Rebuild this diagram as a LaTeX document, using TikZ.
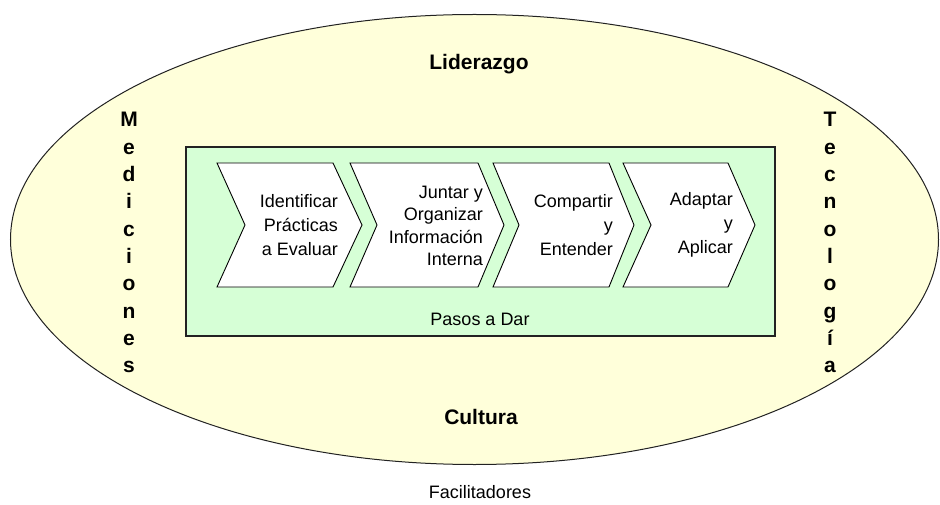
\documentclass[tikz,border=0pt]{standalone}
\usepackage{fontspec}
\setmainfont{Liberation Sans}
\definecolor{ellfill}{HTML}{FFFFDA}
\definecolor{boxfill}{HTML}{D6FFD6}
\definecolor{edge}{HTML}{222222}
\begin{document}
\begin{tikzpicture}[x=1pt,y=-1pt,
  chev/.style={draw=black,line width=0.9pt,fill=white,line join=miter},
  steptext/.style={inner sep=0pt,align=right,anchor=east,font=\fontsize{18}{24}\selectfont},
  steptextfour/.style={inner sep=0pt,align=right,anchor=east,font=\fontsize{18}{22.5}\selectfont},
  bigbold/.style={inner sep=0pt,anchor=base,font=\fontsize{21}{24}\selectfont\bfseries},
  letter/.style={inner sep=0pt,anchor=base,font=\fontsize{21}{24}\selectfont\bfseries},
  plain/.style={inner sep=0pt,anchor=base,font=\fontsize{18}{22}\selectfont}]
\useasboundingbox (0,0) rectangle (940,505);
\fill[white] (0,0) rectangle (940,505);
% ellipse
\draw[draw=edge,line width=1pt,fill=ellfill] (474.5,239.5) ellipse [x radius=464, y radius=225];
% green box
\draw[draw=edge,line width=1.5pt,fill=boxfill] (186,147) rectangle (775,336);
% chevrons
\draw[chev] (217,163) -- (333,163) -- (362,225) -- (333,287) -- (217,287) -- (245,225) -- cycle;
\draw[chev] (350,163) -- (478,163) -- (504,225) -- (478,287) -- (350,287) -- (377,225) -- cycle;
\draw[chev] (493,163) -- (609,163) -- (634,225) -- (609,287) -- (493,287) -- (519,225) -- cycle;
\draw[chev] (623,163) -- (728,163) -- (755,225) -- (728,287) -- (623,287) -- (651,225) -- cycle;
% step texts
\node[steptext] (s1) at (338,225) {Identificar\\Prácticas\\a Evaluar};
\node[steptextfour] (s2) at (483,226) {Juntar y\\Organizar\\Información\\Interna};
\node[steptext] (s3) at (613,225) {Compartir\\y\\Entender};
\node[steptext] (s4) at (733,225) {Adaptar\\y\\Aplicar};
% labels
\node[plain] (pasos) at (480,325) {Pasos a Dar};
\node[bigbold] (lid) at (479,69.5) {Liderazgo};
\node[bigbold] (cul) at (481,424) {Cultura};
\node[plain] (fac) at (480,498) {Facilitadores};
% vertical words
\foreach \ch [count=\i from 0] in {M,e,d,i,c,i,o,n,e,s}
  \node[letter] (m\i) at (129,127+27.3*\i) {\ch};
\foreach \ch [count=\i from 0] in {T,e,c,n,o,l,o,g,í,a}
  \node[letter] (t\i) at (830,127+27.3*\i) {\ch};
\end{tikzpicture}
\end{document}
